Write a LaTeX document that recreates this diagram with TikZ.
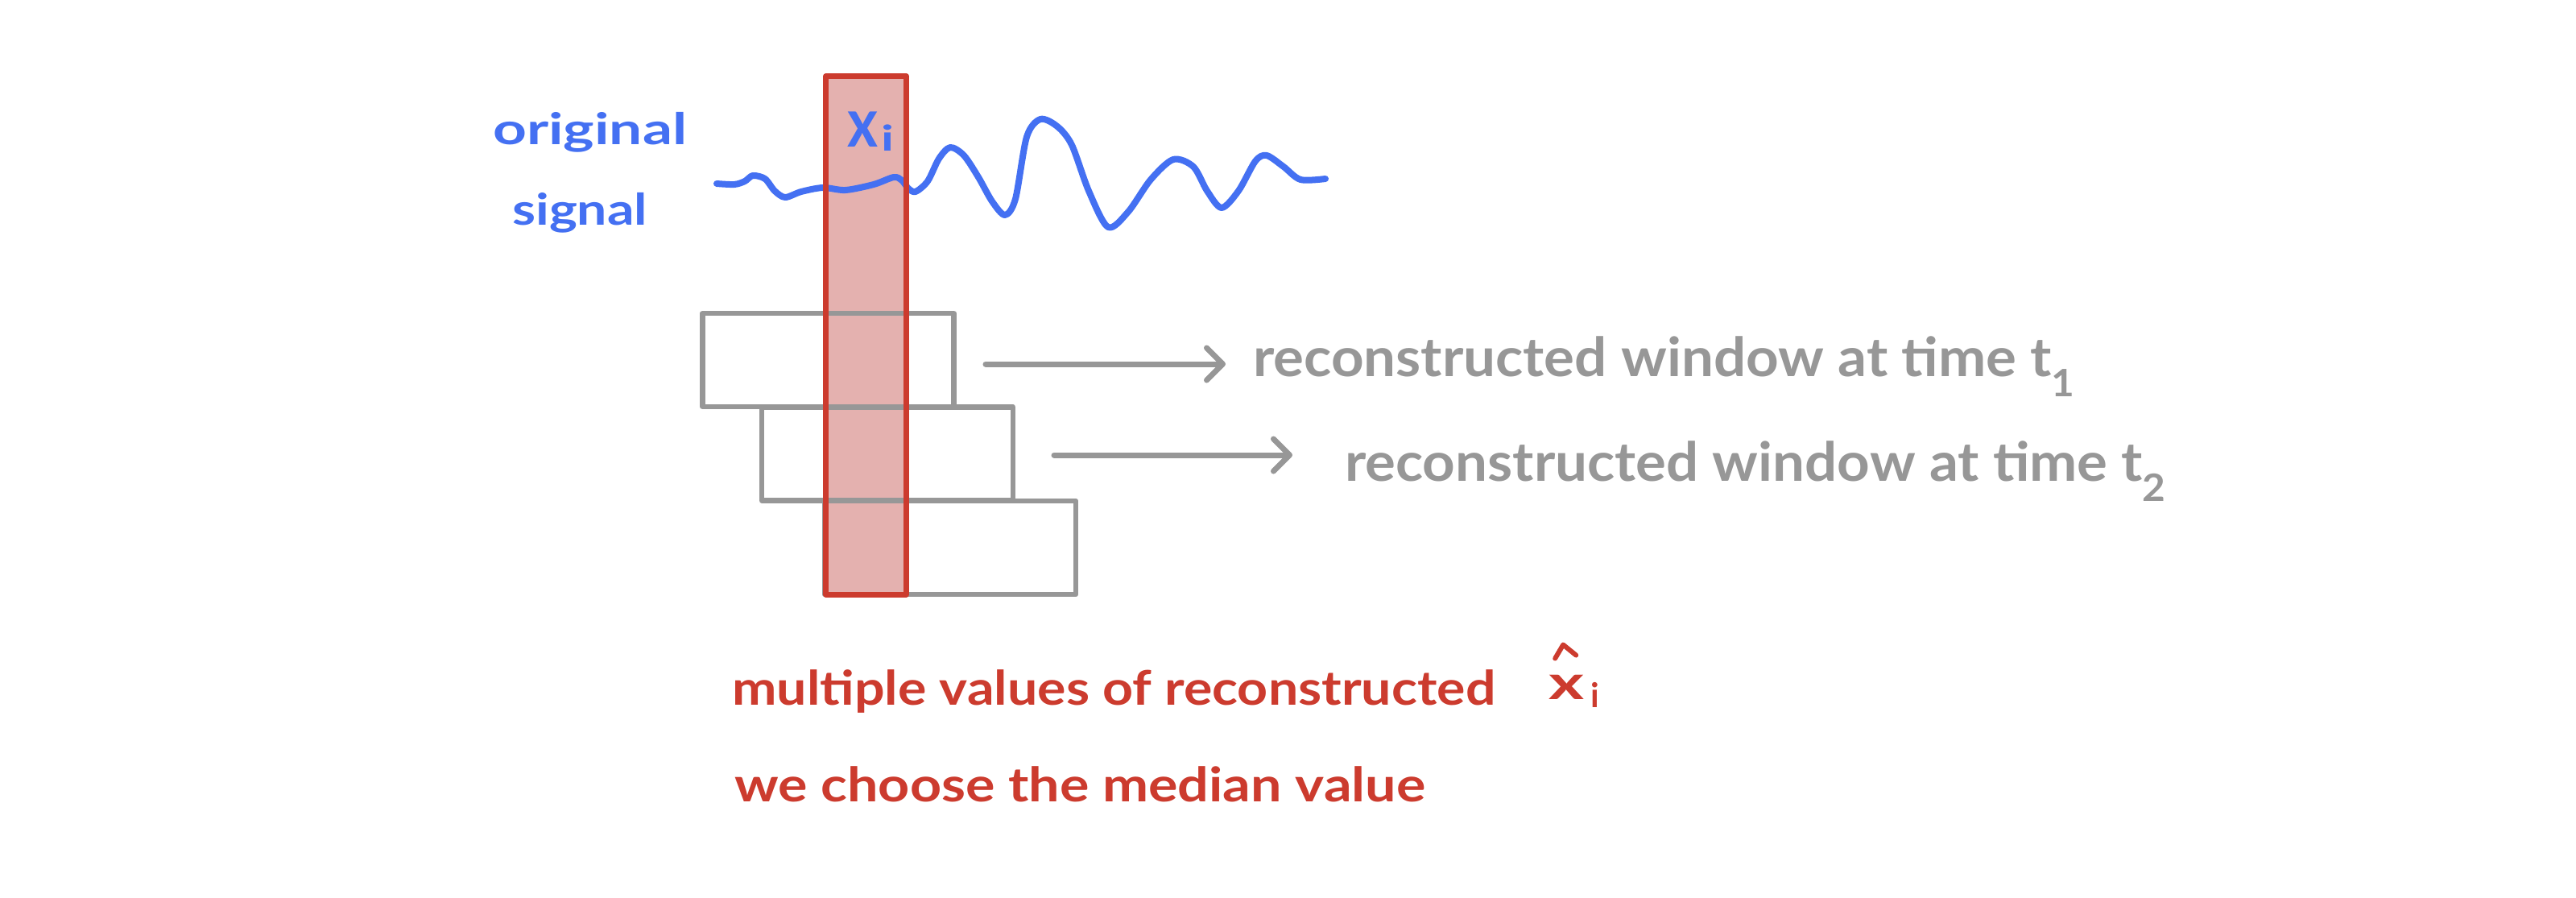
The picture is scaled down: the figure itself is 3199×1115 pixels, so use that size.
\documentclass[tikz,border=0pt]{standalone}
\usepackage{fontspec}
\setmainfont{Lato}
\usetikzlibrary{arrows.meta}
\definecolor{sigblue}{HTML}{4470F2}
\definecolor{winred}{HTML}{CC3B2E}
\definecolor{winpink}{HTML}{E4B1AF}
\definecolor{wingray}{HTML}{979797}
\newcommand\fitw[2]{\resizebox{#1}{\height}{#2}}
\begin{document}
\begin{tikzpicture}[x=1pt,y=-1pt,
  graybox/.style={draw=wingray,line width=6.5pt,line join=round,inner sep=0pt,minimum width=312pt,minimum height=116pt},
  redbox/.style={inner sep=0pt,minimum width=99pt,minimum height=643pt},
  arrowline/.style={draw=wingray,line width=7pt,line cap=round,-{Straight Barb[length=20pt,width=40pt,round]}},
  sigline/.style={draw=sigblue,line width=8pt,line cap=round,line join=round},
  graytxt/.style={text=wingray,inner sep=0pt,anchor=base west,font=\fontsize{67pt}{80pt}\selectfont\bfseries},
  bluetxt/.style={text=sigblue,inner sep=0pt,anchor=base west,font=\fontsize{54pt}{64pt}\selectfont\bfseries},
  redtxt/.style={text=winred,inner sep=0pt,anchor=base west,font=\fontsize{59pt}{70pt}\selectfont\bfseries}]
\useasboundingbox[fill=white] (0,0) rectangle (3199,1115);
% window fill
\node[redbox,fill=winpink] (win) at (1075.5,416.5) {};
% reconstructed windows
\node[graybox] (r1) at (1028.5,447) {};
\node[graybox] (r2) at (1102,563.5) {};
\node[graybox] (r3) at (1180,680) {};
% signal
\draw[sigline] plot[smooth,tension=0.5] coordinates {
(890,228) (912,229) (925,225) (935,218) (950,222) (962,237) (975,245) (995,238)
(1022,233) (1050,236) (1085,229) (1110,220) (1120,224) (1128,234) (1137,238) (1152,225)
(1166,197) (1180,183) (1197,193) (1215,220) (1232,250) (1248,267) (1261,247)
(1275,170) (1292,148) (1313,157) (1331,180) (1352,237) (1376,282) (1401,263)
(1429,223) (1457,198) (1482,207) (1499,237) (1517,258) (1538,237) (1559,200)
(1573,193) (1594,207) (1615,223) (1646,222)};
% window border
\draw[winred,line width=7pt,line join=round] (win.north west) rectangle (win.south east);
% labels
\node[bluetxt] (orig) at (612,180) {\fitw{241pt}{original}};
\node[bluetxt] (sig) at (636,280) {\fitw{168pt}{signal}};
\node[text=sigblue,inner sep=0pt,anchor=base west,font=\fontsize{85pt}{90pt}\selectfont\bfseries] (xi) at (1052,183) {\fitw{38pt}{x}};
\node[text=sigblue,inner sep=0pt,anchor=base west,font=\fontsize{44pt}{50pt}\selectfont\bfseries] (xisub) at (1094,188) {\fitw{16pt}{i}};
\node[graytxt] (t1) at (1556,467) {\fitw{1021pt}{reconstructed window at time t\textsubscript{1}}};
\node[graytxt] (t2) at (1670,597) {\fitw{1020pt}{reconstructed window at time t\textsubscript{2}}};
\coordinate (a1s) at (1224,452);
\coordinate (a1e) at (1522,452);
\coordinate (a2s) at (1309,565);
\coordinate (a2e) at (1605,565);
\draw[arrowline] (a1s) -- (a1e);
\draw[arrowline] (a2s) -- (a2e);
\node[redtxt] (m1) at (909,875) {\fitw{948pt}{multiple values of reconstructed}};
\node[redtxt] (xh) at (1923,868) {\fitw{44pt}{x}};
\node[redtxt,font=\fontsize{42pt}{48pt}\selectfont\bfseries] (xhi) at (1975,878) {i};
\draw[winred,line width=6pt,line cap=round,line join=round] ([xshift=-14pt,yshift=20pt]xh.north) -- ([xshift=-4pt,yshift=37pt]xh.north) -- ([xshift=12pt,yshift=24pt]xh.north);
\node[redtxt] (m2) at (912,995) {\fitw{858pt}{we choose the median value}};
\end{tikzpicture}
\end{document}
